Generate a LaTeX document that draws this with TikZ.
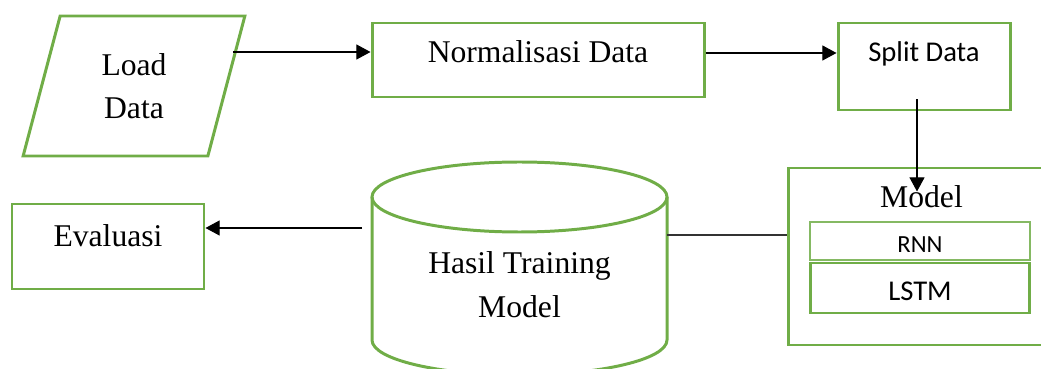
\documentclass[tikz,border=0pt]{standalone}
\usepackage{fontspec}
\setmainfont{Liberation Serif}
\newfontfamily\calibrifont{Carlito}
\usepackage{tikz}
\usetikzlibrary{arrows.meta,positioning,shapes.geometric,calc}
\definecolor{leaf}{HTML}{70AD47}
\definecolor{ink}{HTML}{000000}
\tikzset{
  procbox/.style={
    rectangle, draw=leaf, line width=1.7pt,
    font=\fontsize{18}{24.5}\selectfont, align=center,
    inner sep=0pt
  },
  iobox/.style={
    trapezium, trapezium left angle=76, trapezium right angle=104,
    trapezium stretches=true, draw=leaf, line width=1.7pt,
    font=\fontsize{18}{24.5}\selectfont, align=center,
    inner sep=0pt
  },
  modelbox/.style={
    rectangle, draw=leaf, line width=#1,
    font=\calibrifont\fontsize{16.3}{19}\selectfont, align=center,
    inner sep=0pt
  },
  modelbox/.default=1.7pt,
  flowarrow/.style={
    -{Triangle[length=8pt, width=8.5pt]}, line width=0.6pt, color=ink
  },
  plainline/.style={
    line width=0.6pt, color=ink!80
  },
}
\begin{document}
\begin{tikzpicture}
  \useasboundingbox (0,0) rectangle (20.82,7.36);

  % Top row
  \node[iobox, minimum width=4.44cm, minimum height=2.8cm] (load) at (2.68,5.64) {Load\\Data};
  \node[procbox, minimum width=6.64cm, minimum height=1.48cm,
        text height=0.3cm, text depth=0.18cm] (norm) at (10.76,6.16) {Normalisasi Data};
  \node[modelbox, minimum width=3.44cm, minimum height=1.74cm,
        font=\calibrifont\fontsize{16.3}{19}\selectfont,
        text height=0.24cm, text depth=0.42cm] (split) at (18.48,6.03) {Split Data};

  % Bottom row
  \node[procbox, minimum width=3.84cm, minimum height=1.7cm,
        text height=0.3cm, text depth=0.3cm] (eval) at (2.16,2.43) {Evaluasi};

  \node[procbox, draw=none, outer sep=0pt, minimum width=5.9cm, minimum height=2.86cm,
        text height=1.94cm, text depth=0cm] (hasil) at (10.39,1.99) {Hasil Training\\Model};
  \draw[leaf, line width=1.7pt] (hasil.north west) -- (hasil.south west)
    arc[start angle=180, end angle=360, x radius=2.95cm, y radius=0.7cm] -- (hasil.north east);
  \draw[leaf, line width=1.7pt] (hasil.north) ellipse [x radius=2.95cm, y radius=0.7cm];

  % Model block
  \node[modelbox, minimum width=5.34cm, minimum height=3.54cm,
        font=\fontsize{18}{24.5}\selectfont,
        text height=0.3cm, text depth=2.24cm] (model) at (18.43,2.23) {Model};
  \node[modelbox=0.9pt, draw=leaf!85, minimum width=4.4cm, minimum height=0.76cm,
        font=\calibrifont\fontsize{14}{16}\selectfont,
        text height=0.48cm, text depth=0cm] (rnn) at (18.4,2.54) {RNN};
  \node[modelbox=1.5pt, below=0.02cm of rnn, minimum width=4.38cm, minimum height=1.0cm,
        text height=0.48cm, text depth=0cm] (lstm) {LSTM};

  % Connectors
  \draw[flowarrow] ($(norm.west -| load.east)+(0.1,0.16)$) -- ($(norm.west)+(0,0.16)$);
  \draw[flowarrow] ($(norm.east)+(0,0.14)$) -- ($(norm.east -| split.west)+(0,0.14)$);
  \draw[flowarrow] ($(split.south)+(-0.14,0.24)$) -- ($(model.north)+(-0.09,-0.5)$);
  \draw[plainline] ($(model.west)+(0,0.43)$) -- ($(model.west -| hasil.east)+(0,0.43)$);
  \draw[flowarrow] ($(hasil.west)+(-0.2,0.81)$) -- ($(hasil.west -| eval.east)+(0,0.81)$);
\end{tikzpicture}
\end{document}
